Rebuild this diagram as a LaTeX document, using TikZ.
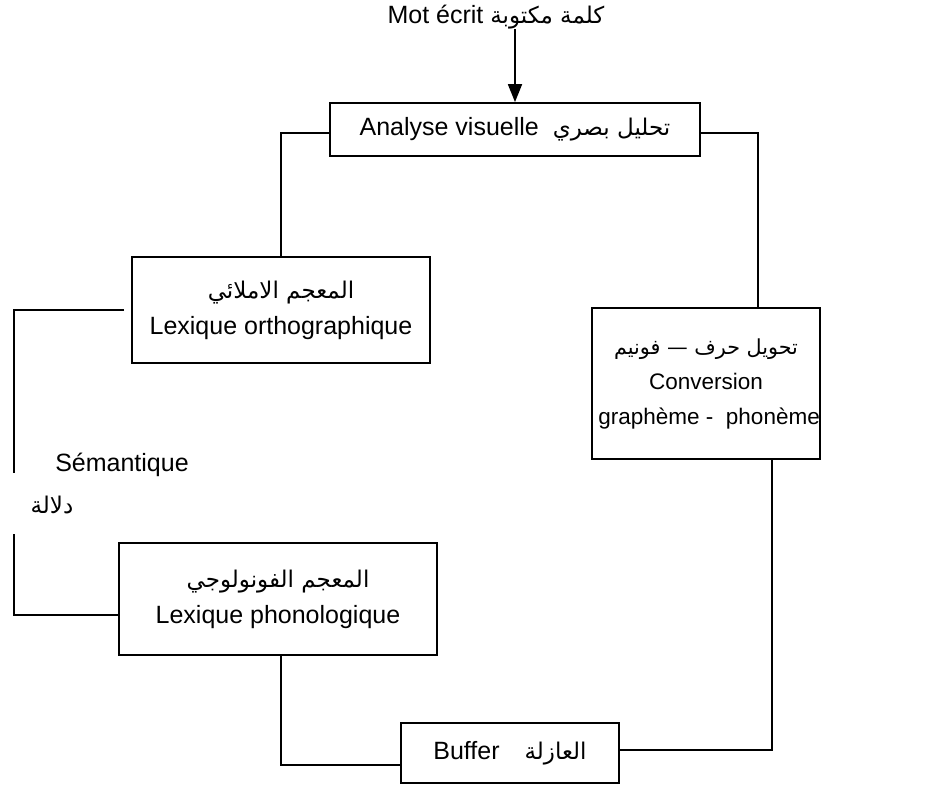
\documentclass[tikz,border=0pt]{standalone}
\usepackage{fontspec}
\setmainfont{Liberation Sans}
\newfontfamily\arabicfont[Script=Arabic,Scale=0.92]{DejaVu Sans}
\TeXXeTstate=1
\usetikzlibrary{arrows.meta}

\begin{document}
\begin{tikzpicture}[x=1pt,y=-1pt,
        box/.style={draw,line width=1.8pt,align=center,inner sep=0pt,
                    font=\fontsize{25}{36}\selectfont},
        lbl/.style={inner sep=0pt,font=\fontsize{25}{30}\selectfont},
        wire/.style={line width=1.8pt},
        arr/.style={wire,-{Triangle[length=18pt,width=14pt]}}]
  \useasboundingbox (0,0) rectangle (942,788);
  \node[lbl] (mot) at (496,17) {Mot écrit {\arabicfont\beginR كلمة مكتوبة\endR}};
  \node[box,minimum width=370pt,minimum height=53pt] (visuel) at (515,129.5)
        {Analyse visuelle\ \ {\arabicfont\beginR تحليل بصري\endR}};
  \node[box,minimum width=298pt,minimum height=106pt] (ortho) at (281,310)
        {{\arabicfont\beginR المعجم الاملائي\endR}\\Lexique orthographique};
  \node[box,minimum width=228pt,minimum height=151pt,
        font=\fontsize{22.5}{35}\selectfont] (conv) at (706,383.5)
        {{\arabicfont\beginR تحويل حرف — فونيم\endR}\\Conversion\\\ graphème -\ \ phonème};
  \node[box,minimum width=318pt,minimum height=112pt] (phono) at (278,599)
        {{\arabicfont\beginR المعجم الفونولوجي\endR}\\Lexique phonologique};
  \node[box,minimum width=218pt,minimum height=60pt] (buffer) at (510,753)
        {Buffer\quad{\arabicfont\beginR العازلة\endR}};
  \node[lbl] (sem) at (122,465) {Sémantique};
  \node[lbl] (dalala) at (52,505) {\arabicfont\beginR دلالة\endR};
  \coordinate (semA) at (14,473);
  \coordinate (semB) at (14,534);
  \draw[arr] (mot.south -| visuel.north) -- (visuel.north);
  \draw[wire] ([yshift=-3.5pt]visuel.west) -| (ortho.north);
  \draw[wire] ([yshift=-3.5pt]visuel.east) -| ([xshift=52pt]conv.north);
  \draw[wire] ([xshift=-7pt]ortho.west) -| (semA);
  \draw[wire] ([yshift=-16pt]phono.west) -| (semB);
  \draw[wire] ([xshift=3pt]phono.south) |- ([yshift=-12pt]buffer.west);
  \draw[wire] ([yshift=3pt]buffer.east) -| ([xshift=66pt]conv.south);
\end{tikzpicture}
\end{document}
